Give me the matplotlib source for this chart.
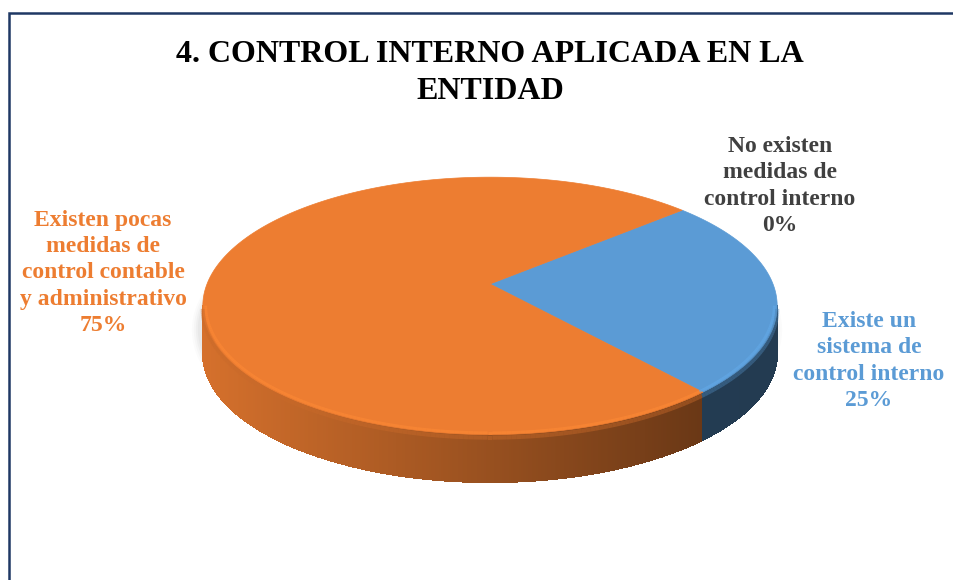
import numpy as np
import matplotlib.pyplot as plt
from matplotlib.collections import PolyCollection
from matplotlib.patches import Polygon

# data
categories = ['Existe un\nsistema de\ncontrol interno',
              'Existen pocas\nmedidas de\ncontrol contable\ny administrativo',
              'No existen\nmedidas de\ncontrol interno']
values = [25, 75, 0]
colors = ['#5B9BD5', '#ED7D31', '#A5A5A5']
label_colors = ['#5B9BD5', '#ED7D31', '#404040']
title = '4. CONTROL INTERNO APLICADA EN LA\nENTIDAD'

# pie geometry (pixels), first slice starts at 41 deg and goes clockwise
xc, yc = 490, 284
A, B, k = 283, 125, 0.17
depth = 48
start = 41.0
label_pos = [(869, 361), (103, 273), (780, 186)]

plt.rcParams['font.family'] = ['Liberation Serif', 'DejaVu Serif']

fig = plt.figure(figsize=(9.54, 5.80), dpi=100)
ax = fig.add_axes([0, 0, 1, 1])
ax.set_xlim(0, 954)
ax.set_ylim(580, 0)
ax.axis('off')


def proj(t, r=1.0, drop=0.0):
    u = r * np.cos(t)
    v = -r * np.sin(t)
    d = 1 - k * v
    return xc + A * u / d, yc + B * v / d + drop


def shade(c, f):
    rgb = np.array(plt.matplotlib.colors.to_rgb(c))
    return tuple(np.clip(rgb * f, 0, 1))


total = float(sum(values))
bounds = []
a0 = start
for v in values:
    a1 = a0 - 360.0 * v / total
    bounds.append((a1, a0))
    a0 = a1


def wedge_of(tdeg):
    for i, (lo, hi) in enumerate(bounds):
        if hi - lo <= 0:
            continue
        t = tdeg
        while t > hi:
            t -= 360
        while t < lo:
            t += 360
        if lo <= t <= hi:
            return i
    return 0


# soft shadow below / left
a = np.arcsin(k)
ts = np.linspace(-np.pi, np.pi, 300)
for i, al in enumerate([0.03, 0.04, 0.05, 0.06]):
    g = 8 - 2 * i
    x, y = proj(ts, 1.0, depth)
    xs = xc + (x - xc) * (1 + g / 290)
    ys = yc + depth + (y - yc - depth) * (1 + g / 130) - 25
    ax.add_patch(Polygon(np.column_stack([xs - 3, ys]), closed=True,
                         fc='#808080', ec='none', alpha=al, zorder=1))

# side of the pie, shaded
tf = np.linspace(-np.pi + a, -a, 500)
xt, yt = proj(tf)
xb, yb = proj(tf, 1.0, depth)
xmin, xmax = xt.min(), xt.max()
polys, fcs = [], []
for i in range(len(tf) - 1):
    tm = np.degrees(0.5 * (tf[i] + tf[i + 1]))
    w = wedge_of(tm)
    xm = 0.5 * (xt[i] + xt[i + 1])
    f = 0.9 - 0.52 * (xm - xmin) / (xmax - xmin)
    if w == 0:
        f = 0.42 - 0.04 * (xm - xmin) / (xmax - xmin)
    polys.append([(xt[i] - 0.3, yt[i]), (xt[i + 1] + 0.3, yt[i + 1]),
                  (xb[i + 1] + 0.3, yb[i + 1]), (xb[i] - 0.3, yb[i])])
    fcs.append(shade(colors[w], f))
ax.add_collection(PolyCollection(polys, facecolors=fcs, edgecolors='none',
                                 antialiased=False, zorder=2))

# top face wedges
for i, (lo, hi) in enumerate(bounds):
    if hi - lo <= 0:
        continue
    tt = np.radians(np.linspace(hi, lo, 200))
    x, y = proj(tt)
    pts = np.vstack([[xc, yc], np.column_stack([x, y])])
    ax.add_patch(Polygon(pts, closed=True, fc=colors[i], ec=colors[i],
                         lw=0.5, zorder=3))

# bevel along the front rim
tb = np.linspace(-np.pi + a, -a, 200)
for j in range(len(tb) - 1):
    w = wedge_of(np.degrees(0.5 * (tb[j] + tb[j + 1])))
    x, y = proj(tb[j:j + 2], 0.99)
    ax.plot(x, y, color=shade(colors[w], 1.1), lw=2.0, alpha=0.55,
            solid_capstyle='butt', zorder=4)
    x, y = proj(tb[j:j + 2], 1.0, 3)
    ax.plot(x, y, color=shade(colors[w], 0.85), lw=3, alpha=0.45,
            solid_capstyle='butt', zorder=4)

# labels
for i, (cat, v) in enumerate(zip(categories, values)):
    pct = 100 * v / total
    ax.text(label_pos[i][0], label_pos[i][1], f'{cat}\n{pct:.0f}%',
            ha='center', va='center', fontsize=17, fontweight='bold',
            color=label_colors[i], linespacing=1.34, zorder=5)

ax.text(490, 73, title, ha='center', va='center', fontsize=23,
        fontweight='bold', color='black', linespacing=1.33, zorder=5)

# frame
ax.plot([9.5, 9.5, 954], [580, 12.5, 12.5], color='#1F3864', lw=1.8,
        solid_joinstyle='miter', zorder=6)

fig.savefig('out.png', dpi=100)
